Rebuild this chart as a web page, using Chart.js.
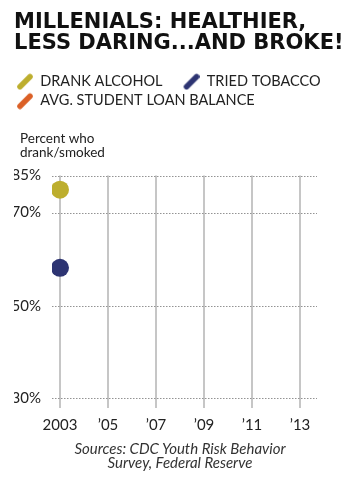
<!DOCTYPE html>
<html>
<head>
<meta charset="utf-8">
<script src="https://cdn.jsdelivr.net/npm/chart.js@4.4.1/dist/chart.umd.min.js"></script>
<style>
  html, body { margin: 0; padding: 0; background: #fff; }
  #wrap { position: relative; width: 360px; height: 480px; }
  #sources { position: absolute; left: 0; top: 441px; width: 360px; text-align: center;
    font-family: Lato, "Open Sans", sans-serif; font-style: italic; font-size: 15px;
    line-height: 14px; color: #333; }
</style>
</head>
<body>
<div id="wrap">
  <canvas id="c"></canvas>
  <div id="sources">Sources: CDC Youth Risk Behavior<br>Survey, Federal Reserve</div>
</div>
<script>
// ---- data ----
const titleLines = ['MILLENIALS: HEALTHIER,', 'LESS DARING...AND BROKE!'];
const yAxisCaption = ['Percent who', 'drank/smoked'];
const seriesNames = ['DRANK ALCOHOL', 'TRIED TOBACCO', 'AVG. STUDENT LOAN BALANCE'];
const years = [2003];
const drankAlcohol = [79.3];
const triedTobacco = [58.2];
const loanBalance = [];
const xTickYears = [2003, 2005, 2007, 2009, 2011, 2013];
const xTickLabels = ['2003', '\u201905', '\u201907', '\u201909', '\u201911', '\u201913'];
const yTickValues = [30, 50, 70, 85];

// ---- styles ----
const colors = ['#bdae2e', '#2d3472', '#db6026'];
const FONT = 'Lato, "Open Sans", sans-serif';
// relative positions of the y ticks along the axis (the original axis is not linear)
const yTickFractions = [0, 92 / 223, 186 / 223, 1];

function toFrac(v) {
  const t = yTickValues, f = yTickFractions;
  if (v <= t[0]) return f[0] + (v - t[0]) * (f[1] - f[0]) / (t[1] - t[0]);
  for (let i = 0; i < t.length - 1; i++) {
    if (v <= t[i + 1]) return f[i] + (v - t[i]) * (f[i + 1] - f[i]) / (t[i + 1] - t[i]);
  }
  const n = t.length - 1;
  return f[n] + (v - t[n]) * (f[n] - f[n - 1]) / (t[n] - t[n - 1]);
}
function fromFrac(d) {
  const t = yTickValues, f = yTickFractions;
  for (let i = 0; i < f.length - 1; i++) {
    if (d <= f[i + 1] || i === f.length - 2) return t[i] + (d - f[i]) * (t[i + 1] - t[i]) / (f[i + 1] - f[i]);
  }
}
class PiecewiseScale extends Chart.LinearScale {
  getPixelForValue(v) { return this.getPixelForDecimal(toFrac(v)); }
  getValueForPixel(p) { return fromFrac(this.getDecimalForPixel(p)); }
}
PiecewiseScale.id = 'piecewise';
PiecewiseScale.defaults = Chart.LinearScale.defaults;
Chart.register(PiecewiseScale);

function makeMarker(color) {
  const c = document.createElement('canvas');
  c.width = 32; c.height = 18;
  const g = c.getContext('2d');
  g.strokeStyle = color; g.lineWidth = 5.5; g.lineCap = 'round';
  g.beginPath(); g.moveTo(19, 14.5); g.lineTo(29, 4.5); g.stroke();
  return c;
}
const markers = colors.map(makeMarker);

const shiftBoxes = {
  id: 'shiftBoxes',
  afterLayout(chart) {
    const lg = chart.legend;
    if (lg) { lg.left -= 18; lg.right -= 18; }
    const sub = chart.boxes.find(b => b !== chart.titleBlock && b.options && b.options.text === yAxisCaption);
    if (sub) { sub.left += 6; sub.right += 6; }
  }
};

// dotted horizontal lines at the y-scale ticks
const dottedYGrid = {
  id: 'dottedYGrid',
  beforeDatasetsDraw(chart) {
    const y = chart.scales.y, area = chart.chartArea, ctx = chart.ctx;
    ctx.save();
    ctx.strokeStyle = '#939393';
    ctx.lineWidth = 1;
    ctx.setLineDash([1.5, 1.5]);
    y.ticks.forEach((t, i) => {
      const py = Math.round(y.getPixelForTick(i)) + 0.5;
      ctx.beginPath();
      ctx.moveTo(area.left, py);
      ctx.lineTo(area.right, py);
      ctx.stroke();
    });
    ctx.restore();
  }
};

const pts = arr => arr.map((v, i) => ({ x: years[i], y: v }));

new Chart(document.getElementById('c'), {
  type: 'scatter',
  data: {
    datasets: [
      { label: seriesNames[0], data: pts(drankAlcohol), backgroundColor: colors[0], borderWidth: 0, pointRadius: 9 },
      { label: seriesNames[1], data: pts(triedTobacco), backgroundColor: colors[1], borderWidth: 0, pointRadius: 9 },
      { label: seriesNames[2], data: pts(loanBalance), backgroundColor: colors[2], borderWidth: 0, pointRadius: 9 }
    ]
  },
  plugins: [shiftBoxes, dottedYGrid],
  options: {
    responsive: true, maintainAspectRatio: false, animation: false,
    layout: { padding: { left: 14, right: 0, top: 0, bottom: 38 } },
    plugins: {
      title: {
        display: true, text: titleLines, align: 'start', color: '#111',
        font: { family: '"DejaVu Sans", sans-serif', size: 21, weight: 'bold', lineHeight: 1.0 },
        padding: { top: 12, bottom: 15 }
      },
      legend: {
        display: true, position: 'top', align: 'start',
        labels: {
          usePointStyle: true, pointStyleWidth: 32, padding: 5, color: '#222',
          font: { family: FONT, size: 14.5 },
          generateLabels(chart) {
            return chart.data.datasets.map((ds, i) => ({
              text: ds.label, fillStyle: colors[i], strokeStyle: colors[i], lineWidth: 0,
              pointStyle: markers[i], hidden: false, datasetIndex: i, fontColor: '#222'
            }));
          }
        }
      },
      subtitle: {
        display: true, text: yAxisCaption, align: 'start', color: '#222', weight: 500,
        font: { family: FONT, size: 13.5, lineHeight: 1.06 },
        padding: { top: 13, bottom: 16 }
      },
      tooltip: { enabled: false }
    },
    scales: {
      x: {
        type: 'linear', min: 2002.667, max: 2013.708,
        afterBuildTicks(s) { s.ticks = xTickYears.map(v => ({ value: v })); },
        ticks: {
          autoSkip: false, maxRotation: 0, padding: 8, color: '#222',
          font: { family: FONT, size: 15 },
          callback: (v, i) => xTickLabels[i]
        },
        grid: { color: '#c6c6c6', lineWidth: 2, drawTicks: true, tickLength: 10, tickColor: '#c6c6c6', tickWidth: 2 },
        border: { display: false }
      },
      y: {
        type: 'piecewise', position: 'left', min: 30, max: 85,
        afterBuildTicks(s) { s.ticks = yTickValues.map(v => ({ value: v })); },
        afterFit(s) { s.width = 38; },
        ticks: {
          padding: 3, color: '#222', font: { family: FONT, size: 15 },
          callback: v => v + '%'
        },
        grid: { display: false },
        border: { display: false }
      },
      yRight: {
        type: 'linear', position: 'right', display: true,
        afterFit(s) { s.width = 43; },
        ticks: { display: false }, grid: { display: false }, border: { display: false }
      }
    }
  }
});
</script>
</body>
</html>
